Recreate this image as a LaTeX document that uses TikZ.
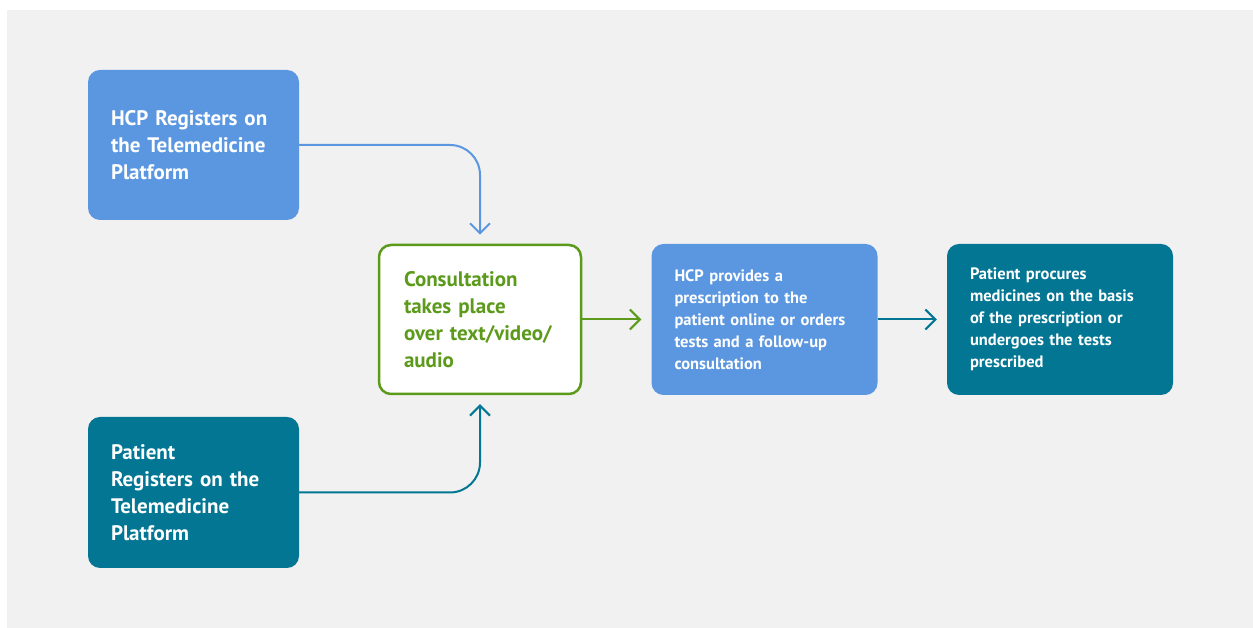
\documentclass[tikz,border=0pt]{standalone}
\usepackage{fontspec}
\setmainfont{PT Sans}
\usetikzlibrary{arrows.meta}
\definecolor{bgray}{HTML}{F1F1F1}
\definecolor{hblue}{HTML}{5B97E0}
\definecolor{pteal}{HTML}{027693}
\definecolor{cgreen}{HTML}{5C9A1B}

\begin{document}
\begin{tikzpicture}[x=1pt,y=1pt,
  bigbox/.style={rounded corners=12pt, inner xsep=23pt, align=left, text width=165pt,
    minimum width=211pt, text=white, font=\fontsize{21}{27}\selectfont\bfseries},
  smallbox/.style={rounded corners=12pt, inner xsep=23pt, align=left, text width=180pt,
    minimum width=226pt, minimum height=151pt, text=white, font=\fontsize{16.5}{22}\selectfont\bfseries},
  flow/.style={line width=2pt, -{Straight Barb[length=10pt,width=20pt,line width=2pt]}}]
  \useasboundingbox (0,0) rectangle (1253,628);
  \fill[bgray] (7,0) rectangle (1253,618);

\node[bigbox, fill=hblue, minimum height=150pt] (hcpreg) at (193.5,483)
  {HCP Registers on\\the Telemedicine\\Platform};
\node[bigbox, fill=pteal, minimum height=151pt] (patreg) at (193.5,135.5)
  {Patient\\Registers on the\\Telemedicine\\Platform};
\node[rounded corners=12pt, draw=cgreen, line width=2.5pt, fill=white, inner xsep=24pt,
  text width=152pt, minimum width=202pt, minimum height=149pt, align=left, text=cgreen,
  font=\fontsize{21}{27}\selectfont\bfseries] (consult) at (480,308.5)
  {Consultation\\takes place\\over text/video/\\audio};
\node[smallbox, fill=hblue] (hcpprov) at (764.5,308.5)
  {HCP provides a\\prescription to the\\patient online or orders\\tests and a follow-up\\consultation};
\node[smallbox, fill=pteal] (patproc) at (1060,308.5)
  {Patient procures\\medicines on the basis\\of the prescription or\\undergoes the tests\\prescribed};

\draw[flow, hblue, rounded corners=30pt] (hcpreg.east) -| ([yshift=9pt]consult.north);
\draw[flow, pteal, rounded corners=30pt] (patreg.east) -| ([yshift=-9pt]consult.south);
\draw[flow, cgreen] (consult.east) -- ([xshift=-10pt]hcpprov.west);
\draw[flow, pteal] (hcpprov.east) -- ([xshift=-10pt]patproc.west);
\end{tikzpicture}
\end{document}
